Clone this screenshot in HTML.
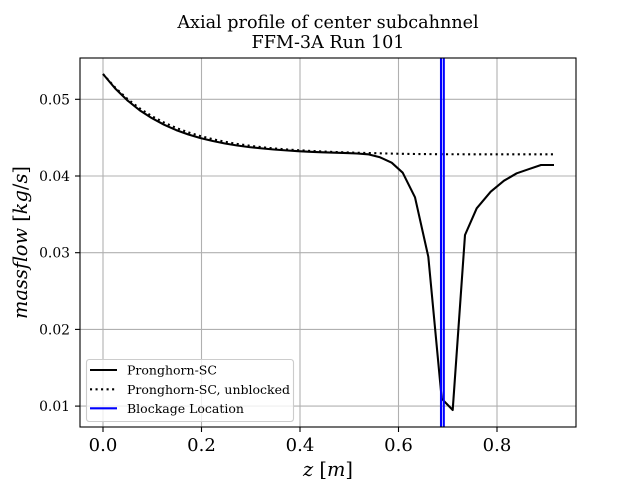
<!DOCTYPE html>
<html>
<head>
<meta charset="utf-8">
<style>
html,body{margin:0;padding:0;background:#fff;}
svg{display:block;}
text{font-family:"DejaVu Serif","Liberation Serif",serif;fill:#000;}
</style>
</head>
<body>
<svg width="640" height="480" viewBox="0 0 640 480" xmlns="http://www.w3.org/2000/svg">
<defs>
<clipPath id="ax"><rect x="80" y="58" width="496" height="369"/></clipPath>
</defs>
<rect x="0" y="0" width="640" height="480" fill="#fff"/>

<!-- grid -->
<g stroke="#b0b0b0" stroke-width="1.1">
<line x1="103" y1="58" x2="103" y2="427"/>
<line x1="201.5" y1="58" x2="201.5" y2="427"/>
<line x1="300" y1="58" x2="300" y2="427"/>
<line x1="398.5" y1="58" x2="398.5" y2="427"/>
<line x1="497" y1="58" x2="497" y2="427"/>
<line x1="80" y1="99.3" x2="576" y2="99.3"/>
<line x1="80" y1="176" x2="576" y2="176"/>
<line x1="80" y1="252.7" x2="576" y2="252.7"/>
<line x1="80" y1="329.4" x2="576" y2="329.4"/>
<line x1="80" y1="406.1" x2="576" y2="406.1"/>
</g>

<g clip-path="url(#ax)">
<!-- dotted unblocked -->
<polyline fill="none" stroke="#000" stroke-width="2.08" stroke-dasharray="2.08 3.44"
points="103,74 115.2,87.6 127.4,98.9 139.6,108.3 151.8,116.1 164,122.5 176.2,127.9 188.4,132.4 200.6,136.1 212.8,139.2 225,141.8 237.2,143.9 249.4,145.7 261.6,147.2 273.8,148.4 286,149.4 298.2,150.2 310.4,150.9 322.6,151.5 334.8,152 347,152.4 359.2,152.8 371.4,153.1 383.6,153.4 395.8,153.7 408,153.9 420,154.05 432,154.15 450,154.25 480,154.3 554,154.3"/>
<!-- solid -->
<polyline fill="none" stroke="#000" stroke-width="2.08" stroke-linejoin="round"
points="103,74 115.2,88.5 127.4,100.4 139.6,110.2 151.8,118.1 164,124.7 176.2,130.1 188.4,134.5 200.6,138.1 212.8,141 225,143.5 237.2,145.5 249.4,147.1 261.6,148.4 273.8,149.5 286,150.4 298.2,151.2 310.4,151.8 322.6,152.3 334.8,152.7 347,153.1 357,153.5 368,154.3 380,157.3 391.7,162.7 402.7,172.7 415,197.3 428.3,256.7 441.7,398.7 452.7,410 465,235 476.7,208.3 490.7,191.7 504,180.7 516.7,173.3 528.3,169.3 541,165 554,165"/>
<!-- blockage -->
<line x1="441" y1="58" x2="441" y2="427" stroke="#0000ff" stroke-width="2.08"/>
<line x1="443.8" y1="58" x2="443.8" y2="427" stroke="#0000ff" stroke-width="2.08"/>
</g>

<!-- spines -->
<rect x="80" y="58" width="496" height="369" fill="none" stroke="#000" stroke-width="1.1"/>

<!-- ticks -->
<g stroke="#000" stroke-width="1.1">
<line x1="103" y1="427" x2="103" y2="432"/>
<line x1="201.5" y1="427" x2="201.5" y2="432"/>
<line x1="300" y1="427" x2="300" y2="432"/>
<line x1="398.5" y1="427" x2="398.5" y2="432"/>
<line x1="497" y1="427" x2="497" y2="432"/>
<line x1="75" y1="99.3" x2="80" y2="99.3"/>
<line x1="75" y1="176" x2="80" y2="176"/>
<line x1="75" y1="252.7" x2="80" y2="252.7"/>
<line x1="75" y1="329.4" x2="80" y2="329.4"/>
<line x1="75" y1="406.1" x2="80" y2="406.1"/>
</g>

<!-- tick labels -->
<g font-size="18" text-anchor="middle">
<text x="103" y="451">0.0</text>
<text x="201.5" y="451">0.2</text>
<text x="300" y="451">0.4</text>
<text x="398.5" y="451">0.6</text>
<text x="497" y="451">0.8</text>
</g>
<g font-size="13.9" text-anchor="end">
<text x="70" y="104.3">0.05</text>
<text x="70" y="181">0.04</text>
<text x="70" y="257.7">0.03</text>
<text x="70" y="334.4">0.02</text>
<text x="70" y="411.1">0.01</text>
</g>

<!-- axis labels -->
<text x="328" y="476" font-size="19.4" text-anchor="middle"><tspan font-style="italic">z</tspan> [<tspan font-style="italic">m</tspan>]</text>
<text transform="translate(27,242.5) rotate(-90)" font-size="19.4" text-anchor="middle"><tspan font-style="italic">massflow</tspan> [<tspan font-style="italic">kg</tspan>/<tspan font-style="italic">s</tspan>]</text>

<!-- title -->
<text x="328" y="28" font-size="17.6" text-anchor="middle">Axial profile of center subcahnnel</text>
<text x="328" y="48" font-size="17.6" text-anchor="middle">FFM-3A Run 101</text>

<!-- legend -->
<rect x="86.5" y="359.5" width="207" height="62" rx="2.8" ry="2.8" fill="#fff" fill-opacity="0.8" stroke="#cccccc" stroke-width="1.1"/>
<line x1="90" y1="370" x2="117" y2="370" stroke="#000" stroke-width="2.08"/>
<line x1="90" y1="389.3" x2="117" y2="389.3" stroke="#000" stroke-width="2.08" stroke-dasharray="2.08 3.44"/>
<line x1="90" y1="408.3" x2="117" y2="408.3" stroke="#0000ff" stroke-width="2.08"/>
<g font-size="12.5">
<text x="127" y="374.5">Pronghorn-SC</text>
<text x="127" y="393.8">Pronghorn-SC, unblocked</text>
<text x="127" y="412.8">Blockage Location</text>
</g>
</svg>
</body>
</html>
